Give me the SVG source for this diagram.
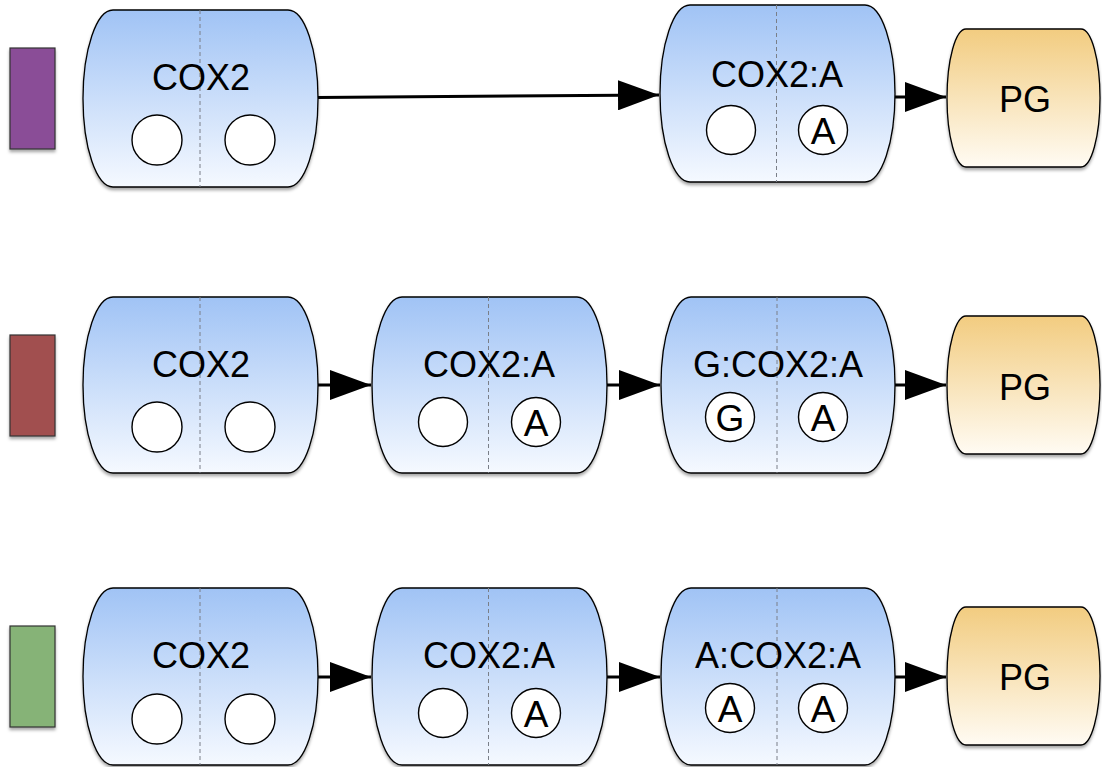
<svg xmlns="http://www.w3.org/2000/svg" width="1102" height="767" viewBox="0 0 1102 767">
  <defs>
    <linearGradient id="blueFill" x1="0" y1="0" x2="0" y2="1">
      <stop offset="0" stop-color="#a0c3f5"/>
      <stop offset="1" stop-color="#f5f9ff"/>
    </linearGradient>
    <linearGradient id="goldFill" x1="0" y1="0" x2="0" y2="1">
      <stop offset="0" stop-color="#f2cc80"/>
      <stop offset="1" stop-color="#fffbf3"/>
    </linearGradient>
    <filter id="shadow" x="-10%" y="-10%" width="120%" height="125%">
      <feDropShadow dx="0" dy="2.5" stdDeviation="1.5" flood-color="#000" flood-opacity="0.35"/>
    </filter>
    <marker id="arrowHead" markerUnits="userSpaceOnUse" markerWidth="42" markerHeight="30" refX="41" refY="15" orient="auto">
      <path d="M0,0 L41,15 L0,30 Z" fill="#000"/>
    </marker>
  </defs>
  <style>
    .body { fill: url(#blueFill); stroke: #000; stroke-width: 1.3; filter: url(#shadow); }
    .product { fill: url(#goldFill); stroke: #000; stroke-width: 1.3; filter: url(#shadow); }
    .divider { stroke: #7a7f88; stroke-width: 1; stroke-dasharray: 4 3; fill: none; }
    .site { fill: #fff; stroke: #000; stroke-width: 1.4; }
    .label { font-family: "Liberation Sans", Arial, sans-serif; font-size: 36px; fill: #000; text-anchor: middle; }
    .siteLabel { font-family: "Liberation Sans", Arial, sans-serif; font-size: 37px; fill: #000; text-anchor: middle; }
    .tag { stroke: #333; stroke-width: 1.2; filter: url(#shadow); }
    .edge { stroke: #000; stroke-width: 3; fill: none; marker-end: url(#arrowHead); }
  </style>

  <!-- colour tags on the left of each row -->
  <g id="tag-row1"><rect class="tag" x="10" y="48" width="45" height="101" fill="#8a4e97"/></g>
  <g id="tag-row2"><rect class="tag" x="10" y="335" width="45" height="101" fill="#a14f50"/></g>
  <g id="tag-row3"><rect class="tag" x="10" y="626" width="45" height="101" fill="#86b377"/></g>

  <!-- connectors -->
  <g id="connectors">
    <path class="edge" d="M317,97.5 L659,95"/>
    <path class="edge" d="M894,97 L946,97"/>
    <path class="edge" d="M317,385 L371,385"/>
    <path class="edge" d="M606,385 L660,385"/>
    <path class="edge" d="M895,385 L946,385"/>
    <path class="edge" d="M317,677 L371,677"/>
    <path class="edge" d="M606,677 L660,677"/>
    <path class="edge" d="M895,677 L946,677"/>
  </g>

  <!-- row 1 -->
  <g id="r1-cox2">
    <path class="body" d="M113,10 H288 A30,88.5 0 0 1 288,187 H113 A30,88.5 0 0 1 113,10 Z"/>
    <line class="divider" x1="200" y1="10" x2="200" y2="187"/>
    <text class="label" x="201" y="90">COX2</text>
    <circle class="site" cx="157" cy="140" r="25"/>
    <circle class="site" cx="250" cy="140" r="25"/>
  </g>
  <g id="r1-cox2a">
    <path class="body" d="M690,5 H865 A30,88.5 0 0 1 865,182 H690 A30,88.5 0 0 1 690,5 Z"/>
    <line class="divider" x1="776.5" y1="5" x2="776.5" y2="182"/>
    <text class="label" x="777" y="87">COX2:A</text>
    <circle class="site" cx="731" cy="130" r="24.5"/>
    <circle class="site" cx="823" cy="130" r="24.5"/>
    <text class="siteLabel" x="823" y="144">A</text>
  </g>
  <g id="r1-pg">
    <path class="product" d="M966,29 H1081 A19,69 0 0 1 1081,167 H966 A19,69 0 0 1 966,29 Z"/>
    <text class="label" x="1025" y="112">PG</text>
  </g>

  <!-- row 2 -->
  <g id="r2-cox2">
    <path class="body" d="M113,297 H288 A30,88 0 0 1 288,473 H113 A30,88 0 0 1 113,297 Z"/>
    <line class="divider" x1="200" y1="297" x2="200" y2="473"/>
    <text class="label" x="201" y="377">COX2</text>
    <circle class="site" cx="157" cy="427" r="25"/>
    <circle class="site" cx="250" cy="427" r="25"/>
  </g>
  <g id="r2-cox2a">
    <path class="body" d="M402,297 H577 A30,88 0 0 1 577,473 H402 A30,88 0 0 1 402,297 Z"/>
    <line class="divider" x1="488.5" y1="297" x2="488.5" y2="473"/>
    <text class="label" x="489" y="377">COX2:A</text>
    <circle class="site" cx="443" cy="422" r="24.5"/>
    <circle class="site" cx="536" cy="422" r="24.5"/>
    <text class="siteLabel" x="536" y="436">A</text>
  </g>
  <g id="r2-gcox2a">
    <path class="body" d="M691,297 H865 A30,88 0 0 1 865,473 H691 A30,88 0 0 1 691,297 Z"/>
    <line class="divider" x1="777" y1="297" x2="777" y2="473"/>
    <text class="label" x="778" y="377">G:COX2:A</text>
    <circle class="site" cx="730" cy="417" r="24.5"/>
    <circle class="site" cx="823" cy="417" r="24.5"/>
    <text class="siteLabel" x="730" y="431">G</text>
    <text class="siteLabel" x="823" y="431">A</text>
  </g>
  <g id="r2-pg">
    <path class="product" d="M966,316 H1081 A19,69 0 0 1 1081,454 H966 A19,69 0 0 1 966,316 Z"/>
    <text class="label" x="1025" y="400">PG</text>
  </g>

  <!-- row 3 -->
  <g id="r3-cox2">
    <path class="body" d="M113,588 H288 A30,88.5 0 0 1 288,765 H113 A30,88.5 0 0 1 113,588 Z"/>
    <line class="divider" x1="200" y1="588" x2="200" y2="765"/>
    <text class="label" x="201" y="668">COX2</text>
    <circle class="site" cx="157" cy="719" r="25"/>
    <circle class="site" cx="250" cy="719" r="25"/>
  </g>
  <g id="r3-cox2a">
    <path class="body" d="M402,588 H577 A30,88.5 0 0 1 577,765 H402 A30,88.5 0 0 1 402,588 Z"/>
    <line class="divider" x1="488.5" y1="588" x2="488.5" y2="765"/>
    <text class="label" x="489" y="668">COX2:A</text>
    <circle class="site" cx="443" cy="713" r="24.5"/>
    <circle class="site" cx="536" cy="713" r="24.5"/>
    <text class="siteLabel" x="536" y="727">A</text>
  </g>
  <g id="r3-acox2a">
    <path class="body" d="M691,588 H865 A30,88.5 0 0 1 865,765 H691 A30,88.5 0 0 1 691,588 Z"/>
    <line class="divider" x1="777" y1="588" x2="777" y2="765"/>
    <text class="label" x="778" y="668">A:COX2:A</text>
    <circle class="site" cx="730" cy="708" r="24.5"/>
    <circle class="site" cx="823" cy="708" r="24.5"/>
    <text class="siteLabel" x="730" y="722">A</text>
    <text class="siteLabel" x="823" y="722">A</text>
  </g>
  <g id="r3-pg">
    <path class="product" d="M966,607 H1081 A19,69 0 0 1 1081,745 H966 A19,69 0 0 1 966,607 Z"/>
    <text class="label" x="1025" y="690">PG</text>
  </g>
</svg>
